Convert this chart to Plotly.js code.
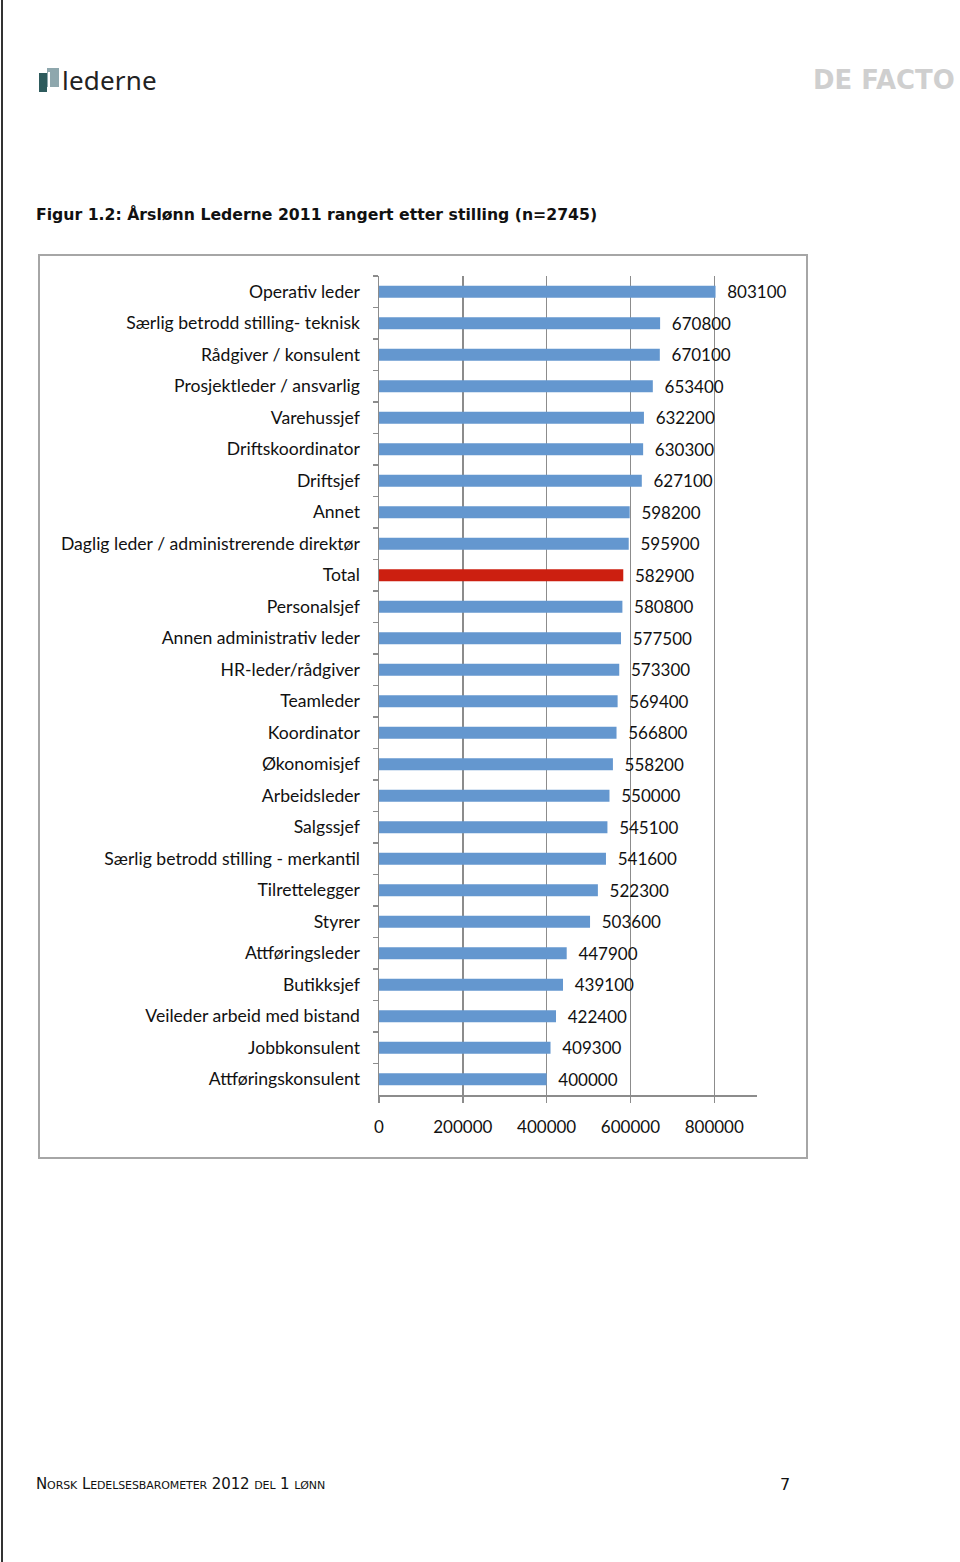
<!DOCTYPE html>
<html>
<head>
<meta charset="utf-8">
<script src="https://cdn.plot.ly/plotly-3.0.1.min.js"></script>
<style>
  html, body { margin:0; padding:0; background:#fff; width:960px; height:1562px; overflow:hidden; }
  #page { position:relative; width:960px; height:1562px; }
  .leftline { position:absolute; left:1px; top:0; width:2px; height:1562px; background:#333; }
  .box { position:absolute; left:38px; top:254px; width:766px; height:901px; border:2px solid #a6a6a6; }
  .logo-dark { position:absolute; left:39px; top:73px; width:8px; height:19px; background:#2e5b5d; }
  .logo-light { position:absolute; left:47px; top:68px; width:12px; height:19px; background:#8ea7ad; }
  .logo-gap { position:absolute; left:48px; top:72px; width:2px; height:20px; background:#fff; }
  .logo-text { position:absolute; left:62px; top:62px; font-family:"Noto Sans", sans-serif; font-size:26px; color:#222; letter-spacing:0.2px; white-space:nowrap; }
  .defacto { position:absolute; left:813px; top:66px; line-height:27px; font-family:"DejaVu Sans", sans-serif; font-weight:bold; font-size:27px; color:#cfcfcf; white-space:nowrap; transform-origin:left top; transform:scaleX(0.96); }
  .footer { position:absolute; left:36px; top:1475px; font-family:"DejaVu Sans", sans-serif; font-size:15px; letter-spacing:-0.1px; color:#111; font-variant:small-caps; white-space:nowrap; }
  .pagenum { position:absolute; left:780px; top:1475px; font-family:"DejaVu Sans", sans-serif; font-size:16px; color:#111; }
  #chart { position:absolute; left:0; top:0; width:960px; height:1562px; }
</style>
</head>
<body>
<div id="page">
  <div class="leftline"></div>
  <div class="logo-light"></div>
  <div class="logo-dark"></div>
  <div class="logo-gap"></div>
  <div class="logo-text">lederne</div>
  <div class="defacto">DE FACTO</div>
  <div class="box"></div>
  <div class="footer">Norsk Ledelsesbarometer 2012 del 1 lønn</div>
  <div class="pagenum">7</div>
  <div id="chart"></div>
</div>
<script>
const categories = [
  "Operativ leder",
  "Særlig betrodd stilling- teknisk",
  "Rådgiver / konsulent",
  "Prosjektleder / ansvarlig",
  "Varehussjef",
  "Driftskoordinator",
  "Driftsjef",
  "Annet",
  "Daglig leder / administrerende direktør",
  "Total",
  "Personalsjef",
  "Annen administrativ leder",
  "HR-leder/rådgiver",
  "Teamleder",
  "Koordinator",
  "Økonomisjef",
  "Arbeidsleder",
  "Salgssjef",
  "Særlig betrodd stilling - merkantil",
  "Tilrettelegger",
  "Styrer",
  "Attføringsleder",
  "Butikksjef",
  "Veileder arbeid med bistand",
  "Jobbkonsulent",
  "Attføringskonsulent"
];
const salaries = [
  803100, 670800, 670100, 653400, 632200, 630300, 627100, 598200, 595900,
  582900, 580800, 577500, 573300, 569400, 566800, 558200, 550000, 545100,
  541600, 522300, 503600, 447900, 439100, 422400, 409300, 400000
];
const xTickValues = [0, 200000, 400000, 600000, 800000];
const highlightCategory = "Total";

const blue = "#6497cf";
const red = "#cc1f10";
const colors = categories.map(c => c === highlightCategory ? red : blue);

const FONT = "Lato, 'Open Sans', sans-serif";

// Plot area in page pixels
const W = 960, H = 1562;
const plotLeft = 379, plotRight = 757, plotTop = 276, plotBottom = 1095;

const trace = {
  type: "bar",
  orientation: "h",
  y: categories,
  x: salaries,
  marker: { color: colors, line: { width: 0 } },
  width: 0.38,
  texttemplate: "\u00a0\u00a0%{x:.0f}",
  textposition: "outside",
  constraintext: "none",
  cliponaxis: false,
  textfont: { family: FONT, size: 17, color: "#111" },
  hoverinfo: "x+y"
};

const layout = {
  width: W,
  height: H,
  paper_bgcolor: "rgba(0,0,0,0)",
  plot_bgcolor: "rgba(0,0,0,0)",
  showlegend: false,
  margin: { l: plotLeft, r: W - plotRight, t: plotTop, b: H - plotBottom, pad: 0 },
  title: {
    text: "<b>Figur 1.2: Årslønn Lederne 2011 rangert etter stilling (n=2745)</b>",
    font: { family: "'DejaVu Sans', sans-serif", size: 15.7, color: "#111" },
    xref: "container", yref: "container",
    x: 36 / W, xanchor: "left",
    y: 1 - 215 / H, yanchor: "middle"
  },
  font: { family: FONT, size: 17, color: "#111" },
  xaxis: {
    range: [0, 902000],
    tickvals: xTickValues,
    ticktext: xTickValues.map(String),
    showgrid: true,
    gridcolor: "#8c8c8c",
    gridwidth: 1.5,
    zeroline: false,
    showline: true,
    linecolor: "#8c8c8c",
    linewidth: 1.5,
    ticks: "outside",
    ticklen: 6,
    tickwidth: 1.5,
    tickcolor: "#8c8c8c",
    ticklabelstandoff: 10,
    tickfont: { family: FONT, size: 17, color: "#111" },
    fixedrange: true
  },
  yaxis: {
    type: "category",
    autorange: "reversed",
    showgrid: false,
    zeroline: false,
    showline: true,
    linecolor: "#8c8c8c",
    linewidth: 1.5,
    ticks: "outside",
    tickson: "boundaries",
    ticklen: 5,
    tickwidth: 1.5,
    tickcolor: "#8c8c8c",
    ticklabelstandoff: 14,
    tickfont: { family: FONT, size: 17.6, color: "#111" },
    fixedrange: true
  },
  bargap: 0.6
};

Plotly.newPlot("chart", [trace], layout, { displayModeBar: false, staticPlot: true });
</script>
</body>
</html>
